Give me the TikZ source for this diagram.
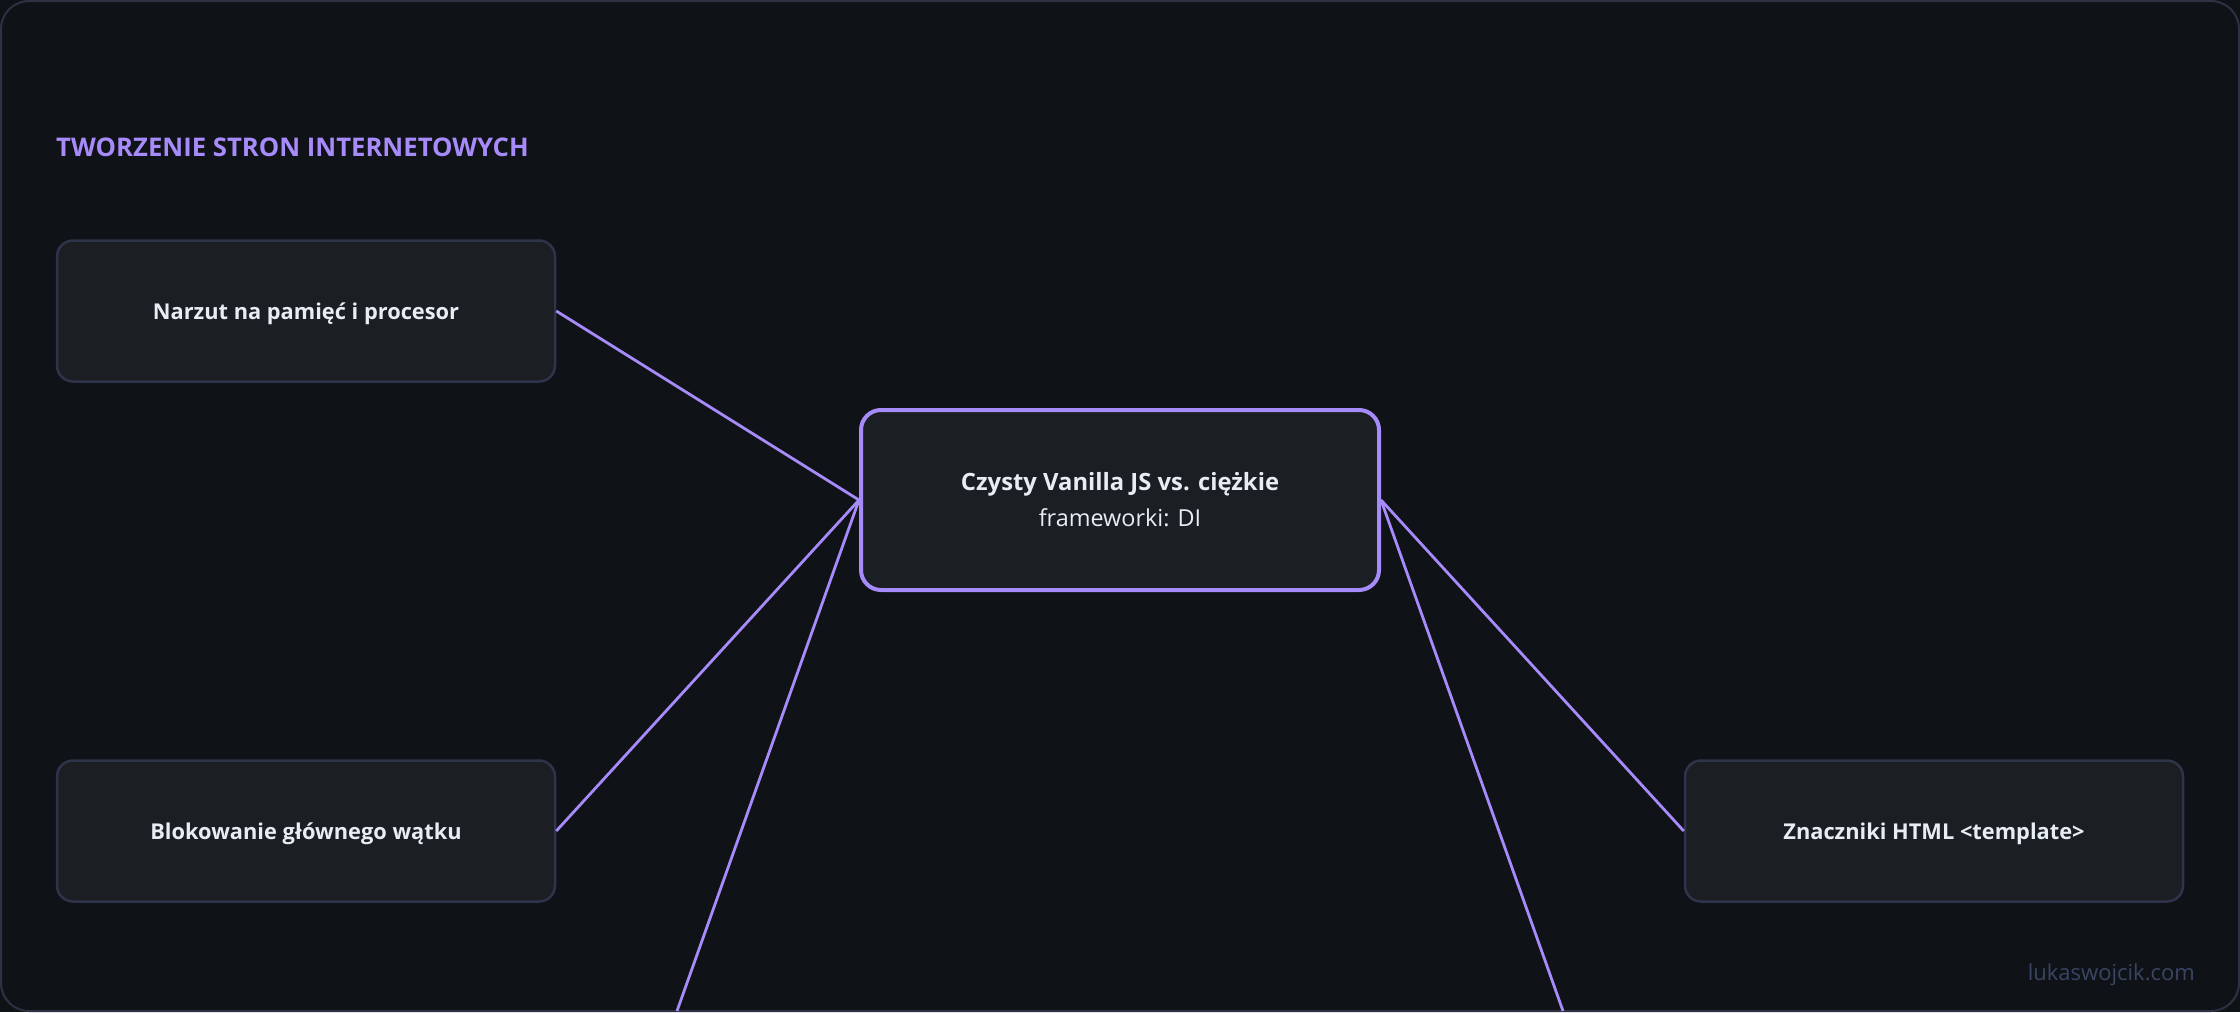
\documentclass[tikz,border=0pt]{standalone}
\usepackage{fontspec}
\setmainfont{Open Sans}
\definecolor{bgc}{HTML}{0F1216}
\definecolor{framec}{HTML}{2C3242}
\definecolor{boxfill}{HTML}{1B1F23}
\definecolor{boxline}{HTML}{2E3449}
\definecolor{txtc}{HTML}{E6EDF3}
\definecolor{purp}{HTML}{A78BFA}
\definecolor{wmc}{HTML}{3A4563}
\tikzset{
  leafbox/.style={draw=boxline, line width=2.5pt, fill=boxfill, rounded corners=16pt,
    minimum width=498pt, minimum height=141pt, text=txtc,
    text height=16pt, text depth=0pt,
    font=\fontsize{21.8}{26}\selectfont\bfseries},
  hubbox/.style={draw=purp, line width=4pt, fill=boxfill, rounded corners=20pt,
    minimum width=518pt, minimum height=180pt, text=txtc, align=center,
    font=\fontsize{23.8}{36}\selectfont},
  link/.style={draw=purp, line width=2.8pt},
}
\begin{document}
\begin{tikzpicture}[x=1pt,y=-1pt]
\useasboundingbox (0,0) rectangle (2240,1012);
\fill[bgc] (0,0) rectangle (2240,1012);
\draw[framec, line width=2pt, rounded corners=28pt] (1,1) rectangle (2239,1011);
\node[anchor=base west, text=purp, font=\fontsize{25.7}{30}\selectfont\bfseries, inner sep=0pt] (title) at (56,156) {TWORZENIE STRON INTERNETOWYCH};
\node[leafbox] (n1) at (306,311) {Narzut na pamięć i procesor};
\node[leafbox] (n2) at (306,831) {Blokowanie głównego wątku};
\node[leafbox] (n3) at (1934,831) {Znaczniki HTML <template>};
\node[hubbox] (hub) at (1120,500) {{\bfseries Czysty Vanilla JS vs. ciężkie}\\{\fontsize{23.4}{36}\selectfont frameworki: DI}};
\coordinate (offL) at (677,1011);
\coordinate (offR) at (1563,1011);
\draw[link] (n1.east) -- (hub.west);
\draw[link] (n2.east) -- (hub.west);
\draw[link] (hub.west) -- (offL);
\draw[link] (hub.east) -- (n3.west);
\draw[link] (hub.east) -- (offR);
\node[anchor=base east, text=wmc, font=\fontsize{22}{26}\selectfont, inner sep=0pt] (wm) at (2195,980) {lukaswojcik.com};
\end{tikzpicture}
\end{document}
